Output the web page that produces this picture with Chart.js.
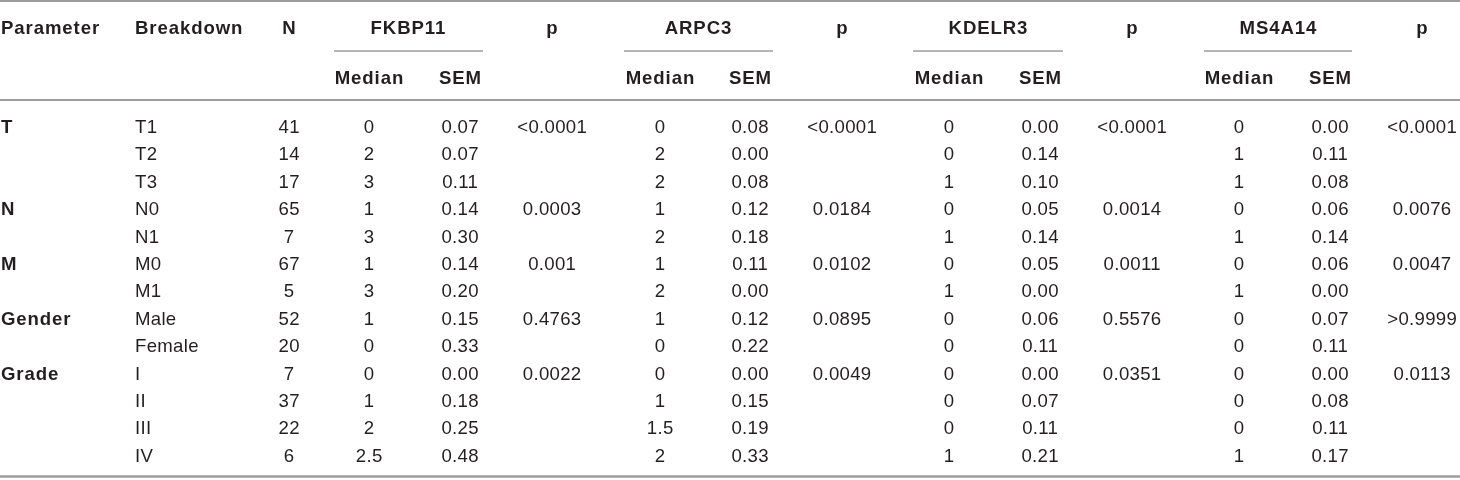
<!DOCTYPE html>
<html>
<head>
<meta charset="utf-8">
<script src="https://cdn.jsdelivr.net/npm/chart.js@4/dist/chart.umd.min.js"></script>
<style>
  html, body { margin: 0; padding: 0; background: #ffffff; }
  #wrap { width: 1460px; height: 480px; }
</style>
</head>
<body>
<div id="wrap"><canvas id="c" width="1460" height="480"></canvas></div>
<script>
// ---------------- DATA ----------------
const parameters = ['T', '', '', 'N', '', 'M', '', 'Gender', '', 'Grade', '', '', ''];
const breakdowns = ['T1', 'T2', 'T3', 'N0', 'N1', 'M0', 'M1', 'Male', 'Female', 'I', 'II', 'III', 'IV'];
const nValues = [41, 14, 17, 65, 7, 67, 5, 52, 20, 7, 37, 22, 6];

const genes = ['FKBP11', 'ARPC3', 'KDELR3', 'MS4A14'];

const fkbp11Median = ['0', '2', '3', '1', '3', '1', '3', '1', '0', '0', '1', '2', '2.5'];
const fkbp11SEM = ['0.07', '0.07', '0.11', '0.14', '0.30', '0.14', '0.20', '0.15', '0.33', '0.00', '0.18', '0.25', '0.48'];
const fkbp11P = ['<0.0001', '', '', '0.0003', '', '0.001', '', '0.4763', '', '0.0022', '', '', ''];

const arpc3Median = ['0', '2', '2', '1', '2', '1', '2', '1', '0', '0', '1', '1.5', '2'];
const arpc3SEM = ['0.08', '0.00', '0.08', '0.12', '0.18', '0.11', '0.00', '0.12', '0.22', '0.00', '0.15', '0.19', '0.33'];
const arpc3P = ['<0.0001', '', '', '0.0184', '', '0.0102', '', '0.0895', '', '0.0049', '', '', ''];

const kdelr3Median = ['0', '0', '1', '0', '1', '0', '1', '0', '0', '0', '0', '0', '1'];
const kdelr3SEM = ['0.00', '0.14', '0.10', '0.05', '0.14', '0.05', '0.00', '0.06', '0.11', '0.00', '0.07', '0.11', '0.21'];
const kdelr3P = ['<0.0001', '', '', '0.0014', '', '0.0011', '', '0.5576', '', '0.0351', '', '', ''];

const ms4a14Median = ['0', '1', '1', '0', '1', '0', '1', '0', '0', '0', '0', '0', '1'];
const ms4a14SEM = ['0.00', '0.11', '0.08', '0.06', '0.14', '0.06', '0.00', '0.07', '0.11', '0.00', '0.08', '0.11', '0.17'];
const ms4a14P = ['<0.0001', '', '', '0.0076', '', '0.0047', '', '>0.9999', '', '0.0113', '', '', ''];

const headerTop = ['Parameter', 'Breakdown', 'N', 'p', 'p', 'p', 'p'];
const subHeaders = ['Median', 'SEM'];

// ---------------- LAYOUT (positions / styles) ----------------
const W = 1460, H = 480;
const TEXT_COLOR = '#231f20';
const RULE_COLOR = '#9d9d9d';
const FONT_FAMILY = '"Liberation Sans", Arial, Helvetica, sans-serif';
const FONT_SIZE = 18.6;

const headerBaseline1 = 33.5;
const headerBaseline2 = 83.5;
const firstRowBaseline = 133;
const rowStep = 27.39;
function rowY(i) { return firstRowBaseline + i * rowStep; }

// column x anchors
const X = {
  param: 1, breakdown: 135, n: 289,
  med: [369, 660, 949, 1239],
  sem: [460, 750, 1040, 1330],
  p: [552, 842, 1132, 1422],
  geneCenter: [408, 698, 988, 1278],
  ruleL: [334, 624, 913, 1204],
  ruleR: [483, 773, 1063, 1352]
};

const medianArrays = [fkbp11Median, arpc3Median, kdelr3Median, ms4a14Median];
const semArrays = [fkbp11SEM, arpc3SEM, kdelr3SEM, ms4a14SEM];
const pArrays = [fkbp11P, arpc3P, kdelr3P, ms4a14P];

// ---------------- DATASETS ----------------
const datasets = [];

function textSet(cells, align, bold) {
  datasets.push({
    cellText: true, align: align, bold: bold,
    data: cells,
    pointRadius: 0, pointHoverRadius: 0, showLine: false,
    borderWidth: 0, backgroundColor: 'rgba(0,0,0,0)'
  });
}
function ruleSet(x1, x2, y, width) {
  datasets.push({
    data: [{ x: x1, y: y }, { x: x2, y: y }],
    showLine: true, borderColor: RULE_COLOR, borderWidth: width,
    pointRadius: 0, pointHoverRadius: 0, fill: false, tension: 0
  });
}

// header row 1
textSet([{ x: X.param, y: headerBaseline1, t: headerTop[0] },
         { x: X.breakdown, y: headerBaseline1, t: headerTop[1] }], 'left', true);
const hdrCenter = [{ x: X.n, y: headerBaseline1, t: headerTop[2] }];
genes.forEach((g, k) => {
  hdrCenter.push({ x: X.geneCenter[k], y: headerBaseline1, t: g });
  hdrCenter.push({ x: X.p[k], y: headerBaseline1, t: headerTop[3 + k] });
  hdrCenter.push({ x: X.med[k], y: headerBaseline2, t: subHeaders[0] });
  hdrCenter.push({ x: X.sem[k], y: headerBaseline2, t: subHeaders[1] });
});
textSet(hdrCenter, 'center', true);

// body: parameter (bold), breakdown (left)
textSet(parameters.map((v, i) => ({ x: X.param, y: rowY(i), t: v })), 'left', true);
textSet(breakdowns.map((v, i) => ({ x: X.breakdown, y: rowY(i), t: v })), 'left', false);
textSet(nValues.map((v, i) => ({ x: X.n, y: rowY(i), t: String(v) })), 'center', false);
for (let k = 0; k < genes.length; k++) {
  textSet(medianArrays[k].map((v, i) => ({ x: X.med[k], y: rowY(i), t: v })), 'center', false);
  textSet(semArrays[k].map((v, i) => ({ x: X.sem[k], y: rowY(i), t: v })), 'center', false);
  textSet(pArrays[k].map((v, i) => ({ x: X.p[k], y: rowY(i), t: v })), 'center', false);
}

// rules
ruleSet(0, W, 1, 2);
for (let k = 0; k < genes.length; k++) ruleSet(X.ruleL[k], X.ruleR[k], 51, 1.5);
ruleSet(0, W, 100, 2);
ruleSet(0, W, 476.5, 2.5);

// ---------------- PLUGIN: draw cell texts at element positions ----------------
const cellTextPlugin = {
  id: 'cellText',
  afterDatasetsDraw(chart) {
    const ctx = chart.ctx;
    chart.data.datasets.forEach((ds, di) => {
      if (!ds.cellText) return;
      const meta = chart.getDatasetMeta(di);
      ctx.save();
      ctx.fillStyle = TEXT_COLOR;
      ctx.textAlign = ds.align;
      ctx.textBaseline = 'alphabetic';
      ctx.font = (ds.bold ? 'bold ' : '') + FONT_SIZE + 'px ' + FONT_FAMILY;
      const ls = ds.bold ? 0.9 : 0.3;
      if ('letterSpacing' in ctx) ctx.letterSpacing = ls + 'px';
      meta.data.forEach((el, j) => {
        const raw = ds.data[j];
        if (!raw || !raw.t) return;
        let x = el.x;
        if (ds.align === 'center') x += ls / 2;
        ctx.fillText(raw.t, x, el.y);
      });
      ctx.restore();
    });
  }
};

new Chart(document.getElementById('c'), {
  type: 'scatter',
  data: { datasets: datasets },
  options: {
    responsive: false,
    animation: false,
    events: [],
    layout: { padding: 0 },
    plugins: { legend: { display: false }, tooltip: { enabled: false }, title: { display: false } },
    scales: {
      x: { type: 'linear', min: 0, max: W, display: false },
      y: { type: 'linear', min: 0, max: H, reverse: true, display: false }
    }
  },
  plugins: [cellTextPlugin]
});
</script>
</body>
</html>
